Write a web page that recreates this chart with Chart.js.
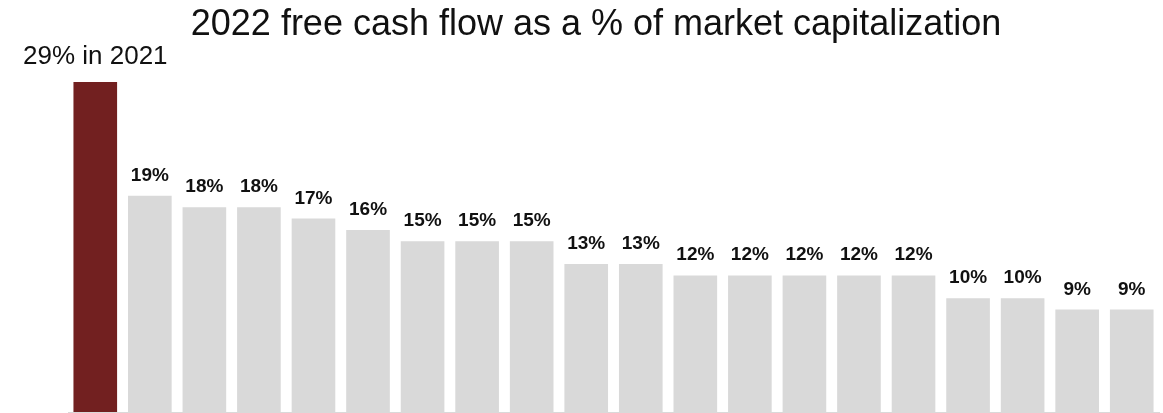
<!DOCTYPE html>
<html>
<head>
<meta charset="utf-8">
<script src="https://cdn.jsdelivr.net/npm/chart.js@4"></script>
<style>
  html, body { margin: 0; padding: 0; background: #fff; }
  #wrap { width: 1163px; height: 413px; position: relative; }
</style>
</head>
<body>
<div id="wrap"><canvas id="fcfChart"></canvas></div>
<script>
const companies = ['2021', 'A', 'B', 'C', 'D', 'E', 'F', 'G', 'H', 'I', 'J', 'K', 'L', 'M', 'N', 'O', 'P', 'Q', 'R', 'S'];
const fcfYield = [29, 19, 18, 18, 17, 16, 15, 15, 15, 13, 13, 12, 12, 12, 12, 12, 10, 10, 9, 9];
const valueLabels = ['29% in 2021', '19%', '18%', '18%', '17%', '16%', '15%', '15%', '15%', '13%', '13%',
    '12%', '12%', '12%', '12%', '12%', '10%', '10%', '9%', '9%'];
const titleText = '2022 free cash flow as a % of market capitalization';

const barColors = fcfYield.map((v, i) => i === 0 ? '#722020' : '#d9d9d9');

// value labels above bars + title
const labelPlugin = {
    id: 'labels',
    afterDatasetsDraw(chart) {
        const ctx = chart.ctx;
        const meta = chart.getDatasetMeta(0);
        ctx.save();
        ctx.fillStyle = '#111';
        ctx.textAlign = 'center';
        ctx.textBaseline = 'alphabetic';
        meta.data.forEach((bar, i) => {
            if (i === 0) {
                ctx.font = '26px "Liberation Sans", Arial, sans-serif';
                ctx.fillText(valueLabels[i], bar.x, bar.y - 18);
            } else {
                ctx.font = 'bold 19px "Liberation Sans", Arial, sans-serif';
                ctx.fillText(valueLabels[i], bar.x, bar.y - 15);
            }
        });
        ctx.font = '36px "Liberation Sans", Arial, sans-serif';
        ctx.fillText(titleText, 596, 35);
        ctx.restore();
    }
};

new Chart(document.getElementById('fcfChart').getContext('2d'), {
    type: 'bar',
    data: {
        labels: companies,
        datasets: [{
            data: fcfYield,
            backgroundColor: barColors,
            barPercentage: 0.8,
            categoryPercentage: 1.0
        }]
    },
    options: {
        responsive: true,
        maintainAspectRatio: false,
        animation: false,
        layout: { padding: { left: 68, right: 4, top: 82, bottom: 1 } },
        plugins: {
            legend: { display: false },
            tooltip: { enabled: false }
        },
        scales: {
            x: {
                ticks: { display: false },
                grid: { display: false, drawTicks: false },
                border: { display: true, color: '#d9d9d9', width: 1 }
            },
            y: {
                display: false,
                min: 0,
                max: 29
            }
        }
    },
    plugins: [labelPlugin]
});
</script>
</body>
</html>
